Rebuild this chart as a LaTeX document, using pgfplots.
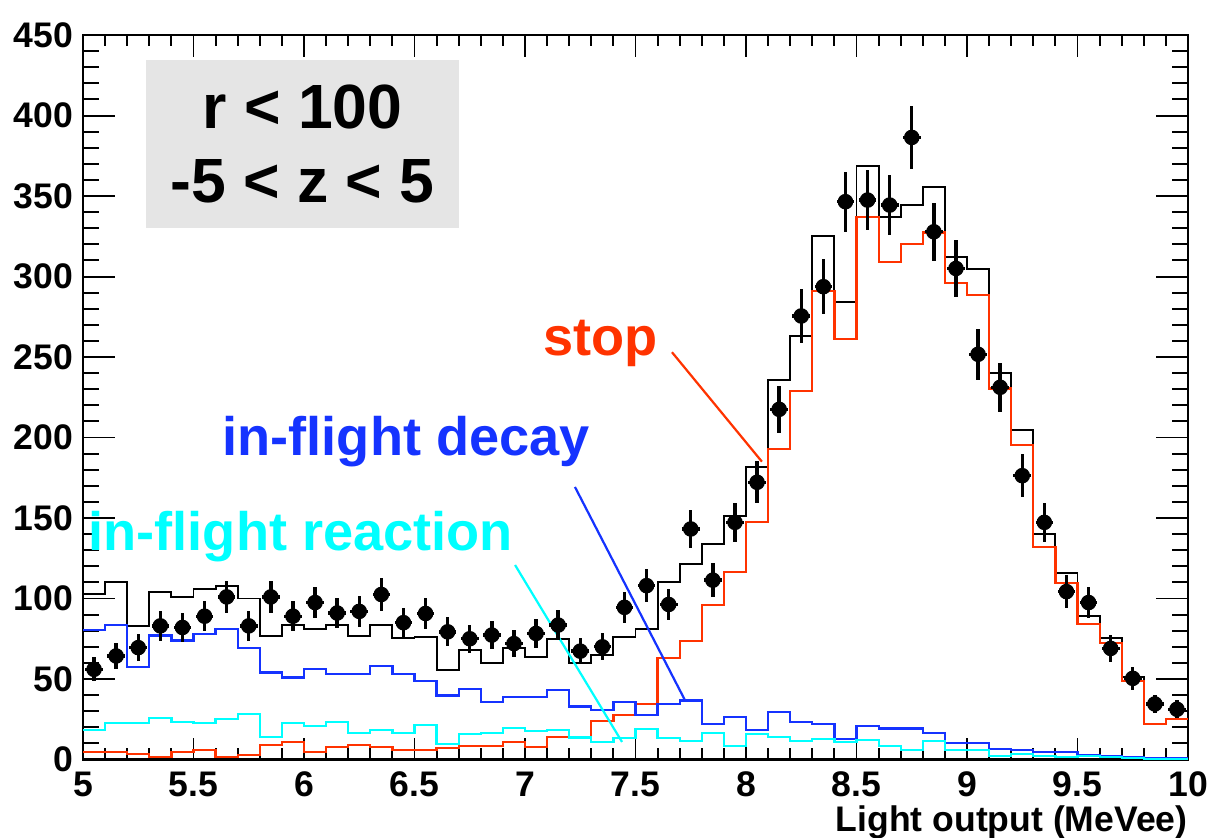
\documentclass[border=0pt]{standalone}
\usepackage{fontspec}
\setmainfont{Liberation Sans}
\usepackage{pgfplots}
\usepackage{pgfplotstable}
\pgfplotsset{compat=1.18}
\definecolor{rootred}{HTML}{FF3300}
\definecolor{rootblue}{HTML}{1533FF}
\definecolor{rootcyan}{HTML}{00FFFF}
\definecolor{boxgray}{HTML}{E5E5E5}

% bin left edges (width 0.1) and contents, last row closes the last bin
\pgfplotstableread{
x y
5.0 103
5.1 110
5.2 83
5.3 104
5.4 101
5.5 106
5.6 108
5.7 100
5.8 77
5.9 83.5
6.0 81
6.1 83.5
6.2 77
6.3 83.5
6.4 75.5
6.5 76
6.6 55.5
6.7 68
6.8 60
6.9 69.5
7.0 63.5
7.1 75
7.2 60
7.3 65
7.4 76
7.5 81
7.6 110
7.7 121.4
7.8 133.9
7.9 151.4
8.0 181.9
8.1 235.7
8.2 263
8.3 325
8.4 284
8.5 368.8
8.6 336.8
8.7 344.4
8.8 355.4
8.9 311.9
9.0 304.5
9.1 239.9
9.2 204.7
9.3 140
9.4 115.7
9.5 89.2
9.6 75.3
9.7 51.5
9.8 21.9
9.9 25.2
10.0 25.2
}\histtot

\pgfplotstableread{
x y
5.0 4.5
5.1 4.5
5.2 3.4
5.3 1.7
5.4 4.5
5.5 5.9
5.6 1.7
5.7 2.8
5.8 9
5.9 11
6.0 4.5
6.1 7.6
6.2 9
6.3 7.6
6.4 5.9
6.5 5.9
6.6 7
6.7 8.4
6.8 8.4
6.9 11
7.0 7.6
7.1 14.2
7.2 14.2
7.3 24
7.4 27.7
7.5 34.5
7.6 63
7.7 73.7
7.8 96
7.9 116.5
8.0 147.7
8.1 192.7
8.2 229
8.3 291.2
8.4 261
8.5 336.8
8.6 309.2
8.7 320.2
8.8 327.4
8.9 296.2
9.0 288.5
9.1 230.5
9.2 195.3
9.3 132.2
9.4 109.5
9.5 84.2
9.6 72.2
9.7 49
9.8 21.9
9.9 25.2
10.0 25.2
}\histstop

\pgfplotstableread{
x y
5.0 80.5
5.1 83.6
5.2 57.3
5.3 77
5.4 73.9
5.5 77.9
5.6 81.2
5.7 69.5
5.8 54
5.9 50.9
6.0 56.3
6.1 53
6.2 53
6.3 58.2
6.4 53
6.5 48.8
6.6 39.7
6.7 43.9
6.8 35.6
6.9 39
7.0 39
7.1 43.2
7.2 32.9
7.3 30.8
7.4 35.6
7.5 27.7
7.6 34.5
7.7 36.6
7.8 21.9
7.9 26.6
8.0 18.4
8.1 29.7
8.2 23.1
8.3 21.9
8.4 12.6
8.5 20.8
8.6 19.2
8.7 19.2
8.8 16.7
8.9 10.1
9.0 10.1
9.1 6.5
9.2 5.9
9.3 4.9
9.4 4.9
9.5 2.8
9.6 2.2
9.7 1.4
9.8 0.8
9.9 0.8
10.0 0.8
}\histdecay

\pgfplotstableread{
x y
5.0 18.4
5.1 22.5
5.2 22.5
5.3 25.6
5.4 23.5
5.5 22.5
5.6 25
5.7 28.3
5.8 14.2
5.9 22.5
6.0 20.8
6.1 23.3
6.2 16.3
6.3 18.4
6.4 16.7
6.5 21.5
6.6 9.5
6.7 15.9
6.8 16.3
6.9 19.8
7.0 17.7
7.1 18.4
7.2 13.6
7.3 11
7.4 13.2
7.5 19
7.6 13.2
7.7 11.5
7.8 16.7
7.9 8.4
8.0 15.9
8.1 14.2
8.2 11.5
8.3 12.6
8.4 11
8.5 12.1
8.6 8.4
8.7 5.9
8.8 11.7
8.9 5.9
9.0 5.9
9.1 2.2
9.2 3.2
9.3 2.2
9.4 1.7
9.5 2.2
9.6 1.4
9.7 0.8
9.8 0.2
9.9 0.2
10.0 0.2
}\histreac

% data points: bin centre, counts, error
\pgfplotstableread{
x y e
5.05 56 7.48
5.15 64.3 8.02
5.25 69.5 8.34
5.35 83 9.11
5.45 82 9.06
5.55 89 9.43
5.65 101 10.05
5.75 83 9.11
5.85 101 10.05
5.95 89 9.43
6.05 97.5 9.87
6.15 91 9.54
6.25 92 9.59
6.35 102.5 10.12
6.45 85 9.22
6.55 90.7 9.52
6.65 79.3 8.91
6.75 75 8.66
6.85 77.3 8.79
6.95 72 8.49
7.05 78.3 8.85
7.15 83.5 9.14
7.25 67.3 8.20
7.35 70 8.37
7.45 94.5 9.72
7.55 108 10.39
7.65 96.3 9.81
7.75 143.2 11.97
7.85 111.4 10.55
7.95 147.3 12.14
8.05 172.2 13.12
8.15 217.5 14.75
8.25 275.5 16.60
8.35 293.7 17.14
8.45 346.5 18.61
8.55 347.5 18.64
8.65 344.4 18.56
8.75 386.4 19.66
8.85 327.8 18.11
8.95 305 17.46
9.05 251.7 15.87
9.15 231.2 15.21
9.25 176.3 13.28
9.35 147.3 12.14
9.45 104.3 10.21
9.55 97.5 9.87
9.65 69 8.31
9.75 50.4 7.10
9.85 34.5 5.87
9.95 31.2 5.59
}\datapts

\begin{document}
\begin{tikzpicture}
\path[use as bounding box] (0,0) rectangle (435.24pt,301.68pt);
\begin{axis}[
  scale only axis,
  width=397.8pt,
  height=260.8pt,
  at={(29.88pt,28.26pt)},
  anchor=south west,
  xmin=5, xmax=10,
  ymin=0, ymax=450,
  xtick={5,5.5,6,6.5,7,7.5,8,8.5,9,9.5,10},
  ytick={0,50,100,150,200,250,300,350,400,450},
  minor x tick num=4,
  minor y tick num=4,
  tick align=inside,
  scaled ticks=false,
  axis line style={line width=1pt},
  every tick/.style={black, line width=0.7pt},
  xtick style={/pgfplots/major tick length=7.9pt, /pgfplots/minor tick length=4pt},
  ytick style={/pgfplots/major tick length=11.5pt, /pgfplots/minor tick length=5.6pt},
  ticklabel style={font=\bfseries\fontsize{12.8}{14}\selectfont},
  /pgf/number format/assume math mode=true,
  xticklabel style={yshift=-1pt},
  xlabel={Light output (MeVee)},
  xlabel style={at={(rel axis cs:1,0)}, anchor=north east, inner sep=0pt,
    yshift=-16.5pt, font=\bfseries\fontsize{12.8}{14}\selectfont},
]
\fill[boxgray] (axis cs:5.285,329.9) rectangle (axis cs:6.703,434.5);
\node[anchor=base, inner sep=0, font=\bfseries\fontsize{22.5}{24}\selectfont] at (axis cs:5.993,392.2) {r < 100};
\node[anchor=base, inner sep=0, font=\bfseries\fontsize{22.5}{24}\selectfont] at (axis cs:5.993,345.7) {-5 < z < 5};

\addplot[const plot, black, line width=0.7pt] table[x=x,y=y] {\histtot};
\addplot[const plot, rootred, line width=0.8pt] table[x=x,y=y] {\histstop};
\addplot[const plot, rootblue, line width=0.8pt] table[x=x,y=y] {\histdecay};
\addplot[const plot, rootcyan, line width=0.8pt] table[x=x,y=y] {\histreac};

\draw[rootred, line width=0.8pt] (axis cs:7.665,253) -- (axis cs:8.072,185);
\draw[rootblue, line width=0.8pt] (axis cs:7.226,169.3) -- (axis cs:7.724,36.8);
\draw[rootcyan, line width=0.8pt] (axis cs:6.955,120.8) -- (axis cs:7.439,10.9);

\node[anchor=base west, inner sep=0, text=rootred, font=\bfseries\fontsize{19.5}{21}\selectfont] at (axis cs:7.081,251.2) {stop};
\node[anchor=base west, inner sep=0, text=rootblue, font=\bfseries\fontsize{19.5}{21}\selectfont] at (axis cs:5.629,189.1) {in-flight decay};
\node[anchor=base west, inner sep=0, text=rootcyan, font=\bfseries\fontsize{19.5}{21}\selectfont] at (axis cs:5.023,130.1) {in-flight reaction};

\addplot[only marks, mark=*, mark size=2.6pt, black,
  error bars/.cd, x dir=both, x fixed=0.04, y dir=both, y explicit,
  error mark=none, error bar style={line width=1.2pt}]
  table[x=x,y=y,y error=e] {\datapts};
\end{axis}
\end{tikzpicture}
\end{document}
